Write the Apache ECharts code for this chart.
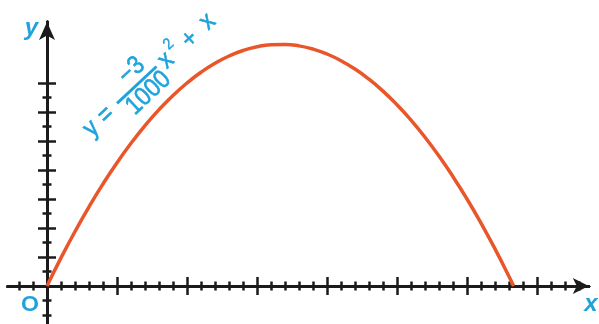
<!DOCTYPE html>
<html>
<head>
<meta charset="utf-8">
<script src="https://cdn.jsdelivr.net/npm/echarts@6/dist/echarts.min.js"></script>
<style>html,body{margin:0;padding:0;background:#fff;}#c{width:599px;height:324px;}</style>
</head>
<body>
<div id="c"></div>
<script>
// Curve points (x, y)
const curveX = [0,10,20,30,40,50,60,70,80,90,100,110,120,130,140,150,160,170,180,190,200,210,220,230,240,250,260,270,280,290,300,310,320,330,333.3];
const curveY = [0,9.7,18.8,27.3,35.2,42.5,49.2,55.3,60.8,65.7,70,73.7,76.8,79.3,81.2,82.5,83.2,83.3,82.8,81.7,80,77.7,74.8,71.3,67.2,62.5,57.2,51.3,44.8,37.7,30,21.7,12.8,3.3,0];

// Tick positions
const xMajorTicks = [50,100,150,200,250,300,350];
const xMinorTicks = [-20,-10,10,20,30,40,60,70,80,90,110,120,130,140,160,170,180,190,210,220,230,240,260,270,280,290,310,320,330,340,360,370,380];
const yMajorTicks = [10,20,30,40,50,60,70];
const yMinorTicks = [-10,-5,5,15,25,35,45,55,65];

// Range of axes
const xRange = [-28, 387];
const yRange = [-13, 91];

const INK = '#1b1b1b';
const CYAN = '#1fa3dc';
const CURVE = '#e8562a';

const chart = echarts.init(document.getElementById('c'), null, {renderer: 'canvas'});

const gridBox = {left: 7.8, top: 22.1, width: 581, height: 301.6, outerBoundsMode: 'none'};
const grids = [0,1,2,3].map(() => Object.assign({}, gridBox));

const tickSets = [
  {x: xMajorTicks, y: yMajorTicks, len: 9, inside: false},
  {x: xMajorTicks, y: yMajorTicks, len: 9, inside: true},
  {x: xMinorTicks, y: yMinorTicks, len: 4.5, inside: false},
  {x: xMinorTicks, y: yMinorTicks, len: 4.5, inside: true}
];

const xAxes = tickSets.map((t, i) => ({
  type: 'value', gridIndex: i, min: xRange[0], max: xRange[1],
  axisLine: {show: true, onZero: true,
    symbol: i === 0 ? ['none', 'arrow'] : ['none', 'none'],
    symbolSize: [12, 16],
    lineStyle: {color: INK, width: 3}},
  axisTick: {show: true, customValues: t.x, length: t.len, inside: t.inside,
    lineStyle: {color: INK, width: 2.5}},
  axisLabel: {show: false},
  splitLine: {show: false}
}));

const yAxes = tickSets.map((t, i) => ({
  type: 'value', gridIndex: i, min: yRange[0], max: yRange[1],
  axisLine: {show: true, onZero: true,
    symbol: i === 0 ? ['none', 'arrow'] : ['none', 'none'],
    symbolSize: [12, 18],
    lineStyle: {color: INK, width: 3}},
  axisTick: {show: true, customValues: t.y, length: t.len, inside: t.inside,
    lineStyle: {color: INK, width: 2.5}},
  axisLabel: {show: false},
  splitLine: {show: false}
}));

const FONT = 'Liberation Sans';
function txt(text, x, y, size, italic, sx, weight, thick) {
  const style = {text: text, fill: CYAN,
    fontSize: size, fontFamily: FONT, fontStyle: italic ? 'italic' : 'normal',
    fontWeight: weight || 'normal',
    align: 'center', verticalAlign: 'middle'};
  if (thick) { style.stroke = CYAN; style.lineWidth = thick; }
  return {type: 'text', x: x, y: y, scaleX: sx || 1, style: style};
}

const option = {
  animation: false,
  backgroundColor: '#fff',
  grid: grids,
  xAxis: xAxes,
  yAxis: yAxes,
  series: [{
    type: 'line', xAxisIndex: 0, yAxisIndex: 0,
    data: curveX.map((x, i) => [x, curveY[i]]),
    smooth: true, showSymbol: false, symbol: 'none',
    lineStyle: {color: CURVE, width: 3.5},
    z: 5
  }],
  graphic: [
    txt('y', 31.5, 28, 24, true, 1, 'bold'),
    txt('x', 591, 304, 24, true, 1, 'bold'),
    txt('O', 30, 305, 22, false, 1.05, 'bold'),
    {
      type: 'group', x: 136, y: 87, rotation: 43 * Math.PI / 180,
      children: [
        txt('y', -61, 0, 26, false, 0.88, 'normal', 0.6),
        txt('=', -41, 0, 26, false, 0.88, 'normal', 0.6),
        {type: 'line', shape: {x1: -25, y1: -1, x2: 29, y2: -1},
          style: {stroke: CYAN, lineWidth: 3}},
        txt('\u22123', 8, -15, 26, false, 0.88, 'normal', 0.6),
        txt('1000', 5, 13, 26, false, 0.88, 'normal', 0.6),
        txt('x', 40, 1, 26, false, 0.88, 'normal', 0.6),
        txt('2', 53, -9, 16, false, 0.9, 'normal', 0.4),
        txt('+', 72, 2, 26, false, 0.88, 'normal', 0.6),
        txt('x', 97, 1, 26, false, 0.88, 'normal', 0.6)
      ]
    }
  ]
};
chart.setOption(option);
</script>
</body>
</html>
